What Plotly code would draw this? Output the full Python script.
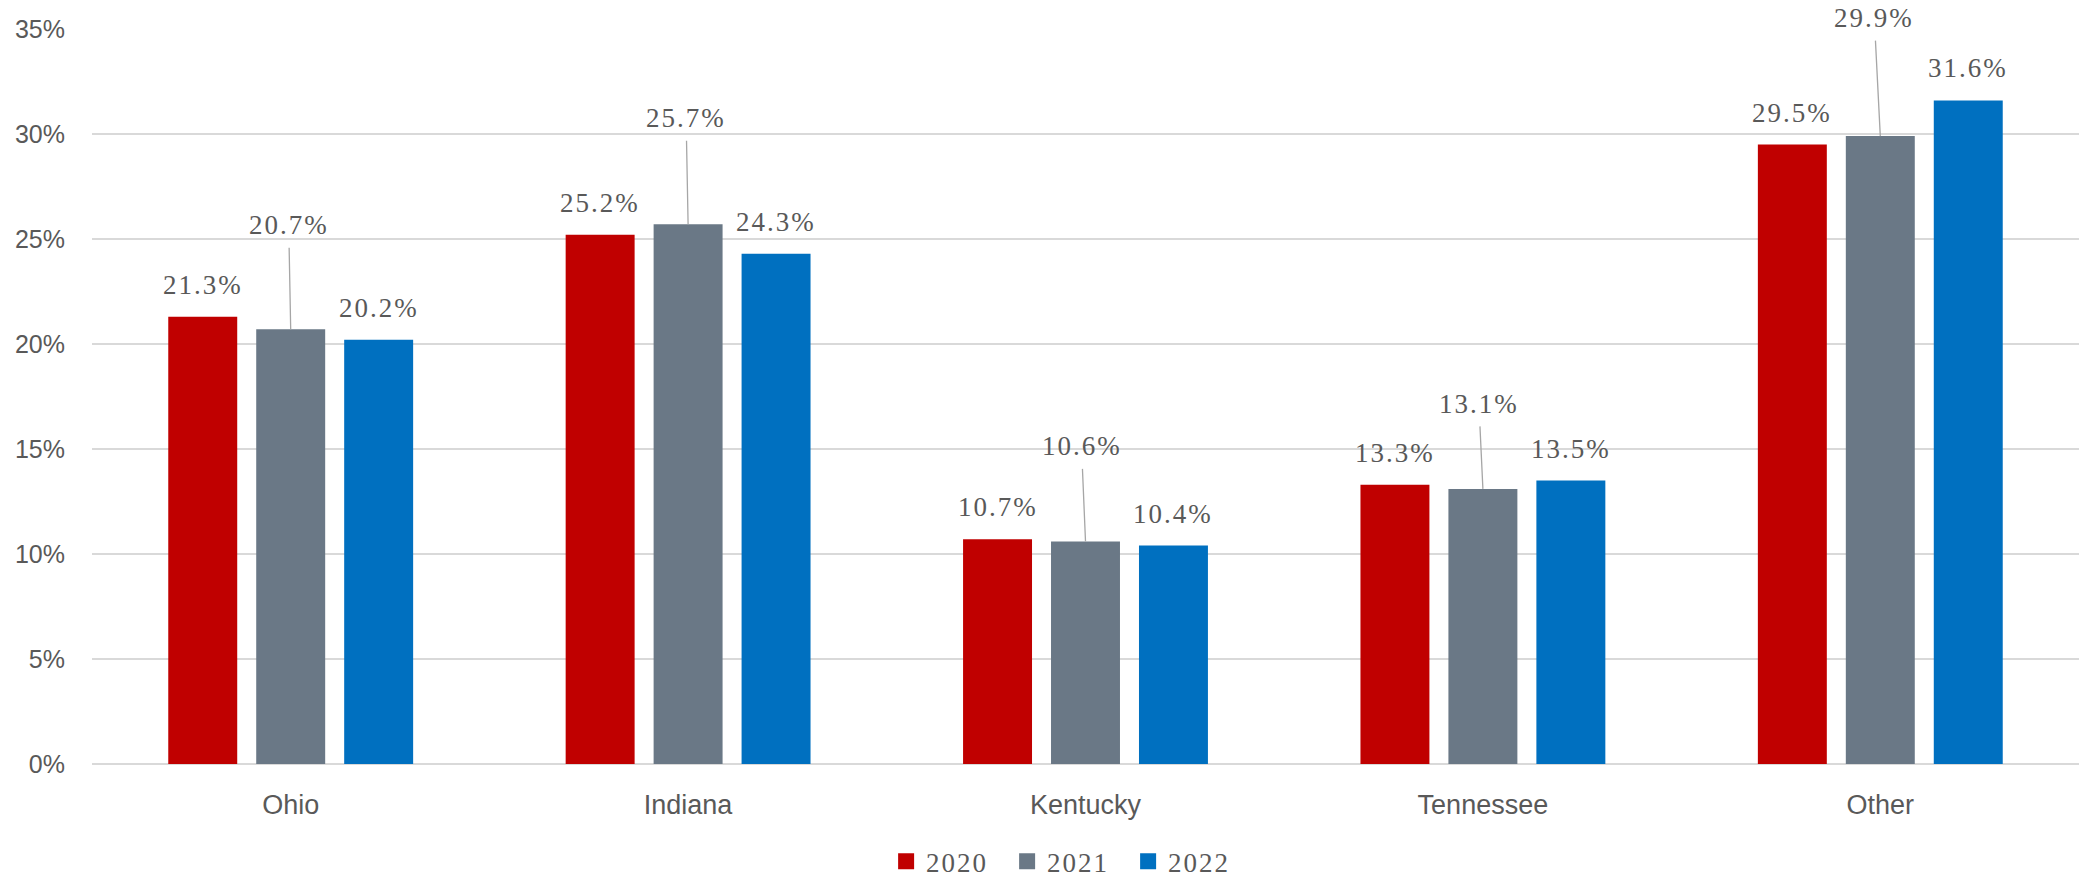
import plotly.graph_objects as go

# Share of total by state, per year (percent)
states = ["Ohio", "Indiana", "Kentucky", "Tennessee", "Other"]
years = ["2020", "2021", "2022"]
values_2020 = [21.3, 25.2, 10.7, 13.3, 29.5]
values_2021 = [20.7, 25.7, 10.6, 13.1, 29.9]
values_2022 = [20.2, 24.3, 10.4, 13.5, 31.6]
y_ticks = [0, 5, 10, 15, 20, 25, 30, 35]
y_tick_labels = [f"{t}%" for t in y_ticks]

colors = ["#C00000", "#6A7886", "#0070C0"]
series = [values_2020, values_2021, values_2022]

TEXT = "#595959"
SERIF = "Liberation Serif, Times New Roman, serif"
SANS = "Liberation Sans, Arial, sans-serif"

W, H = 2079, 878
M_L, M_R, M_T, M_B = 92, 0, 29, 114
BARGAP, GROUPGAP = 0.336, 0.216

fig = go.Figure()
for name, vals, col in zip(years, series, colors):
    fig.add_trace(go.Bar(
        x=states, y=vals, name=name, marker=dict(color=col, line=dict(width=0)),
        showlegend=False, hoverinfo="skip",
    ))
# legend swatches
for name, col in zip(years, colors):
    fig.add_trace(go.Scatter(
        x=[None], y=[None], mode="markers", name=name,
        marker=dict(symbol="square", size=18, color=col),
    ))

# pixel offset of the side bars from the category centre
cat_px = (W - M_L - M_R) / len(states)
slot_px = cat_px * (1 - BARGAP) / len(years)

annotations = []
label_font = dict(family=SERIF, size=27, color=TEXT)
for vals, shift in [(values_2020, -slot_px), (values_2022, slot_px)]:
    for s, v in zip(states, vals):
        annotations.append(dict(
            x=s, y=v, xref="x", yref="y", text=f"{v:.1f}%", showarrow=False,
            xshift=shift, yshift=15, yanchor="bottom", font=label_font,
        ))

# middle-year labels sit higher with leader lines
leader_dx = [-2, -2, -4, -4, -6]
leader_dy = [-104, -106, -95, -85, -118]
for s, v, dx, dy in zip(states, values_2021, leader_dx, leader_dy):
    annotations.append(dict(
        x=s, y=v, xref="x", yref="y", text=f"{v:.1f}%", showarrow=True,
        ax=dx, ay=dy, arrowhead=0, arrowwidth=1.3, arrowcolor="#A6A6A6",
        standoff=0, borderpad=7, font=label_font,
    ))

fig.update_layout(
    width=W, height=H, autosize=False,
    margin=dict(l=M_L, r=M_R, t=M_T, b=M_B, autoexpand=False),
    paper_bgcolor="white", plot_bgcolor="white",
    barmode="group", bargap=BARGAP, bargroupgap=GROUPGAP,
    annotations=annotations,
    legend=dict(
        orientation="h", x=0.491, xanchor="center", y=-0.133, yanchor="middle",
        font=dict(family=SERIF, size=27, color=TEXT),
        entrywidth=76, entrywidthmode="pixels", itemclick=False,
    ),
    showlegend=True,
)
fig.update_xaxes(
    showgrid=False, showline=False, zeroline=False,
    tickfont=dict(family=SANS, size=27, color=TEXT), ticklabelstandoff=22,
)
fig.update_yaxes(
    range=[0, 35], tickmode="array", tickvals=y_ticks, ticktext=y_tick_labels,
    showgrid=True, gridcolor="#D9D9D9", gridwidth=1.5,
    zeroline=True, zerolinecolor="#D9D9D9", zerolinewidth=1.5,
    showline=False, tickfont=dict(family=SANS, size=25, color=TEXT),
    ticklabelstandoff=26,
)

post = """
var gd = document.getElementById('{plot_id}');
function spaceText() {
  gd.querySelectorAll('.annotation-text, .legendtext').forEach(function (t) {
    t.style.letterSpacing = '2px';
  });
}
spaceText();
gd.on('plotly_afterplot', spaceText);
"""

fig.write_html("out.html", config={"displayModeBar": False}, post_script=post)
